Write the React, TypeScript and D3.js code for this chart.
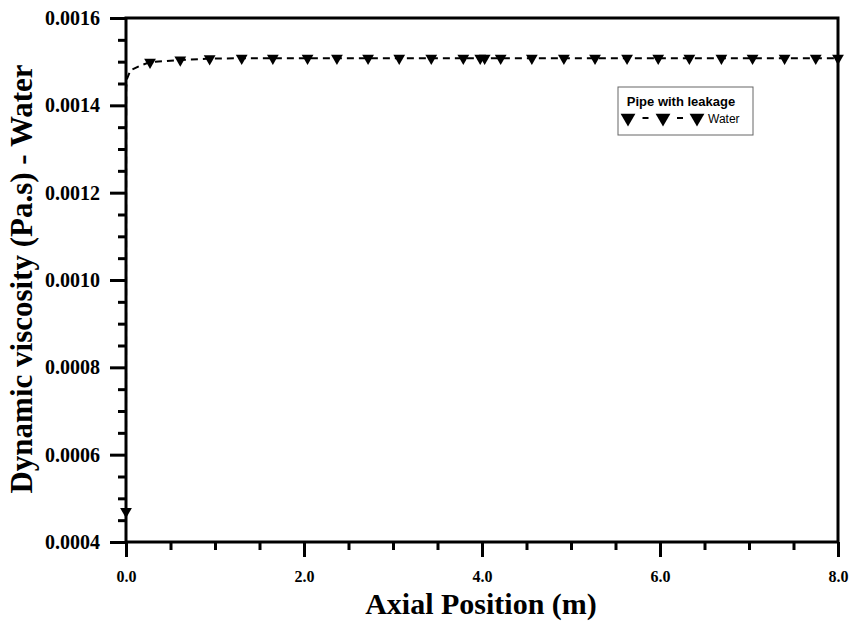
import React, { useEffect, useRef } from 'react';
import { select, scaleLinear, axisLeft, axisBottom, line, symbol, symbolTriangle, format, range } from 'd3';

// inlet ramp (no markers) and the marked points along the pipe
const rampPos = [0.002, 0.01, 0.05, 0.15];
const rampVisc = [0.00144, 0.00146, 0.00148, 0.00149];
const markerPos = [0, 0.27, 0.61, 0.94, 1.30, 1.65, 2.04, 2.37, 2.72, 3.07, 3.43, 3.79, 3.98, 4.03, 4.21, 4.56, 4.92, 5.27, 5.63, 5.98, 6.33, 6.69, 7.04, 7.40, 7.75, 8.0];
const markerVisc = [0.00047, 0.001499, 0.001504, 0.001507, 0.001508, 0.001508, 0.001508, 0.001508, 0.001508, 0.001508, 0.001508, 0.001508, 0.001508, 0.001508, 0.001508, 0.001508, 0.001508, 0.001508, 0.001508, 0.001508, 0.001508, 0.001508, 0.001508, 0.001508, 0.001508, 0.001508];

const xTicks = [0, 2, 4, 6, 8];
const yTicks = [0.0004, 0.0006, 0.0008, 0.0010, 0.0012, 0.0014, 0.0016];

const App = () => {
    const ref = useRef<SVGSVGElement>(null);

    useEffect(() => {
        const svg = select(ref.current);
        svg.selectAll('*').remove();

        const left = 126, right = 838, top = 18, bottom = 542;
        const serif = 'Liberation Serif, Times New Roman, serif';
        const sans = 'Liberation Sans, Arial, sans-serif';

        const x = scaleLinear().domain([0, 8]).range([left, right]);
        const y = scaleLinear().domain([0.0004, 0.0016]).range([bottom, top]);

        // minor ticks
        const xMinor = range(0, 8.01, 0.5).filter(v => !xTicks.includes(v));
        const yMinor = range(0.0004, 0.00161, 0.00005).filter(v => !yTicks.some(t => Math.abs(t - v) < 1e-9));

        const gxMinor = svg.append('g').attr('transform', `translate(0, ${bottom})`)
            .call(axisBottom(x).tickValues(xMinor).tickSize(8).tickFormat(() => ''));
        const gyMinor = svg.append('g').attr('transform', `translate(${left}, 0)`)
            .call(axisLeft(y).tickValues(yMinor).tickSize(8).tickFormat(() => ''));

        const gx = svg.append('g').attr('transform', `translate(0, ${bottom})`)
            .call(axisBottom(x).tickValues(xTicks).tickSize(15).tickPadding(14).tickFormat(format('.1f')));
        const gy = svg.append('g').attr('transform', `translate(${left}, 0)`)
            .call(axisLeft(y).tickValues(yTicks).tickSize(16).tickPadding(10).tickFormat(format('.4f')));

        [gxMinor, gyMinor, gx, gy].forEach(g => {
            g.select('.domain').remove();
            g.selectAll('line').attr('stroke', '#000').attr('stroke-width', 3);
        });
        gx.selectAll('text').attr('font-family', serif).attr('font-weight', 'bold')
            .attr('font-size', 16).attr('fill', '#000');
        gy.selectAll('text').attr('font-family', serif).attr('font-weight', 'bold')
            .attr('font-size', 20).attr('fill', '#000');

        // frame
        svg.append('rect')
            .attr('x', left).attr('y', top)
            .attr('width', right - left).attr('height', bottom - top)
            .attr('fill', 'none').attr('stroke', '#000').attr('stroke-width', 3);

        // series
        const pts = [
            [markerPos[0], markerVisc[0]],
            ...rampPos.map((p, i) => [p, rampVisc[i]]),
            ...markerPos.slice(1).map((p, i) => [p, markerVisc[i + 1]]),
        ];
        const path = line<number[]>().x(d => x(d[0])).y(d => y(d[1]));
        svg.append('path')
            .attr('d', path(pts))
            .attr('fill', 'none').attr('stroke', '#000')
            .attr('stroke-width', 2).attr('stroke-dasharray', '7,5');

        const tri = symbol().type(symbolTriangle).size(60);
        svg.append('g').selectAll('path')
            .data(markerPos)
            .enter()
            .append('path')
            .attr('d', tri())
            .attr('transform', (d, i) => `translate(${x(d)}, ${y(markerVisc[i])}) rotate(180)`)
            .attr('fill', '#000');

        // legend
        const legendMarks = [628, 663, 697];
        const lg = svg.append('g');
        lg.append('rect').attr('x', 618).attr('y', 87).attr('width', 135).attr('height', 48)
            .attr('fill', '#fff').attr('stroke', '#666').attr('stroke-width', 1);
        lg.append('text').attr('x', 681).attr('y', 106).attr('text-anchor', 'middle')
            .attr('font-family', sans).attr('font-weight', 'bold').attr('font-size', 13)
            .text('Pipe with leakage');
        lg.selectAll('line')
            .data(legendMarks.slice(1).map((m, i) => (m + legendMarks[i]) / 2))
            .enter()
            .append('line')
            .attr('x1', d => d - 3).attr('x2', d => d + 3).attr('y1', 118).attr('y2', 118)
            .attr('stroke', '#000').attr('stroke-width', 2);
        lg.selectAll('path.lm')
            .data(legendMarks)
            .enter()
            .append('path')
            .attr('class', 'lm')
            .attr('d', symbol().type(symbolTriangle).size(95)())
            .attr('transform', d => `translate(${d}, 118) rotate(180)`)
            .attr('fill', '#000');
        lg.append('text').attr('x', 708).attr('y', 123)
            .attr('font-family', sans).attr('font-size', 12)
            .text('Water');

        // axis titles
        svg.append('text')
            .attr('x', 481).attr('y', 614).attr('text-anchor', 'middle')
            .attr('font-family', serif).attr('font-weight', 'bold').attr('font-size', 30)
            .text('Axial Position (m)');
        svg.append('text')
            .attr('transform', 'translate(32, 279) rotate(-90)')
            .attr('text-anchor', 'middle')
            .attr('font-family', serif).attr('font-weight', 'bold').attr('font-size', 31)
            .text('Dynamic viscosity (Pa.s) - Water');
    }, []);

    return (
        <svg ref={ref} width={852} height={622}
            style={{ position: 'absolute', left: 0, top: 0, background: '#fff' }}></svg>
    );
};

export default App;
